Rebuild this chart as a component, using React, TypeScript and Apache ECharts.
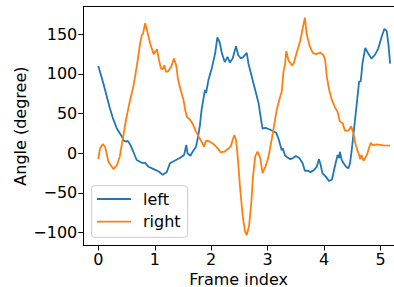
import React, { useEffect, useRef } from "react";
import * as echarts from "echarts";

const leftX = [0, 0.09, 0.2, 0.26, 0.33, 0.42, 0.45, 0.5, 0.52, 0.57, 0.62, 0.68, 0.77, 0.83, 0.89, 0.98, 1.07, 1.14, 1.21, 1.27, 1.36, 1.45, 1.52, 1.56, 1.58, 1.63, 1.68, 1.73, 1.76, 1.8, 1.83, 1.89, 1.91, 1.95, 2.01, 2.07, 2.11, 2.15, 2.19, 2.24, 2.29, 2.33, 2.38, 2.44, 2.48, 2.53, 2.57, 2.63, 2.66, 2.75, 2.84, 2.88, 2.91, 2.96, 3.04, 3.15, 3.19, 3.25, 3.27, 3.31, 3.4, 3.45, 3.5, 3.56, 3.62, 3.66, 3.72, 3.76, 3.82, 3.87, 3.91, 3.94, 3.97, 4.03, 4.09, 4.14, 4.19, 4.24, 4.27, 4.28, 4.31, 4.34, 4.39, 4.43, 4.46, 4.49, 4.53, 4.58, 4.62, 4.65, 4.68, 4.73, 4.78, 4.84, 4.9, 4.96, 5.02, 5.07, 5.11, 5.14, 5.17];
const leftY = [110, 88, 58, 44, 31, 21, 16, 14.6, 16, 10.4, 2, -8.4, -12, -12, -17, -20, -23, -27, -24, -12.6, -9, -5.5, -2, 10.4, 0, -3, 3, 8, 18, 35, 55, 80, 76, 92, 107, 126, 146, 140, 126, 115, 121.5, 114.5, 119.5, 135, 123.6, 119.5, 121.5, 126.5, 113, 88, 63, 44, 31, 32, 30, 26, 19, 4, 6, -3, -7.5, -6, -3.4, -6, -12.6, -22, -22, -24, -21, -17, -7.5, -14.7, -25, -29.4, -35, -33, -17, -2, -6, 2, -7.5, -12, -17, -19, -12.6, 4, 30, 63, 90, 91, 113, 133, 126, 119.5, 124, 132, 147, 157, 154, 138, 113];

const rightX = [0, 0.03, 0.08, 0.12, 0.18, 0.27, 0.33, 0.38, 0.42, 0.45, 0.49, 0.55, 0.62, 0.68, 0.74, 0.77, 0.79, 0.83, 0.87, 0.92, 0.98, 1.04, 1.07, 1.11, 1.14, 1.17, 1.2, 1.24, 1.29, 1.34, 1.38, 1.41, 1.45, 1.51, 1.54, 1.57, 1.63, 1.68, 1.72, 1.78, 1.83, 1.87, 1.91, 1.98, 2.04, 2.1, 2.17, 2.23, 2.29, 2.35, 2.38, 2.41, 2.44, 2.47, 2.51, 2.56, 2.6, 2.63, 2.67, 2.71, 2.74, 2.78, 2.82, 2.87, 2.91, 2.96, 3.01, 3.07, 3.1, 3.16, 3.22, 3.25, 3.28, 3.31, 3.33, 3.37, 3.43, 3.46, 3.52, 3.58, 3.62, 3.66, 3.69, 3.74, 3.8, 3.86, 3.93, 3.99, 4.02, 4.05, 4.09, 4.14, 4.19, 4.24, 4.28, 4.33, 4.37, 4.43, 4.48, 4.52, 4.56, 4.61, 4.64, 4.66, 4.7, 4.76, 4.8, 4.83, 4.86, 4.93, 5.05, 5.17];
const rightY = [-7.5, 6, 11.7, 8.3, -10.6, -20, -14.7, -4, 12.6, 25, 42, 63, 84, 109, 138, 149, 150, 164, 153, 138, 125, 131, 119.5, 107, 105.7, 111, 102.6, 103.5, 109, 119.5, 111, 94, 82, 67, 54.5, 46, 42, 36, 29, 21, 14.6, 8.3, 16, 14.6, 11.7, 7.5, 1.3, 2, 5, 9.2, 16.7, 23, 16.7, -4, -42, -80, -98.6, -103, -92, -63, -29.4, -4, 2, -6, -25, -17, -6, 16.7, 29, 54.5, 71, 77.5, 102.6, 113, 129, 117, 111, 113, 128, 142.5, 157, 171, 151, 136, 126.5, 125, 127, 124, 117, 96, 80, 67, 58.6, 52, 40, 38, 28.5, 28.5, 34, 25, 10.4, 0, -7.5, -2, -9.3, -2, 7.5, 13.4, 10.4, 11.3, 10, 9.6];

const xTicks = [0, 1, 2, 3, 4, 5];
const yTicks = [-100, -50, 0, 50, 100, 150];

const FONT = "DejaVu Sans";

export default function App() {
  const ref = useRef<HTMLDivElement>(null);
  useEffect(() => {
    if (!ref.current) return;
    const chart = echarts.init(ref.current, null, { renderer: "svg" });
    const fmt = (v: any) => String(v).replace("-", "\u2212");
    const xMin = -0.266;
    const xMax = 5.239;
    chart.setOption({
      animation: false,
      grid: { left: 83.3, top: 6.7, right: 0, bottom: 41.5, outerBoundsMode: "none", containLabel: false },
      xAxis: [
        {
          type: "value",
          min: xMin,
          max: xMax,
          position: "bottom",
          axisLine: { show: true, onZero: false, lineStyle: { color: "#000", width: 1 } },
          axisTick: { show: true, length: 5, customValues: xTicks, lineStyle: { color: "#000", width: 1 } },
          axisLabel: { customValues: xTicks, fontSize: 16, color: "#000", fontFamily: FONT, margin: 6, formatter: fmt },
          splitLine: { show: false },
          name: "Frame index",
          nameLocation: "middle",
          nameGap: 25.5,
          nameMoveOverlap: false,
          nameTextStyle: { fontSize: 16, lineHeight: 16, color: "#000", fontFamily: FONT },
        },
        {
          type: "value",
          min: xMin,
          max: xMax,
          position: "top",
          axisLine: { show: true, onZero: false, lineStyle: { color: "#000", width: 1 } },
          axisTick: { show: false },
          axisLabel: { show: false },
          splitLine: { show: false },
        },
      ],
      yAxis: {
        type: "value",
        min: -116.2,
        max: 184.8,
        axisLine: { show: true, onZero: false, lineStyle: { color: "#000", width: 1 } },
        axisTick: { show: true, length: 5, customValues: yTicks, lineStyle: { color: "#000", width: 1 } },
        axisLabel: { customValues: yTicks, fontSize: 16, color: "#000", fontFamily: FONT, margin: 6, formatter: fmt },
        splitLine: { show: false },
        name: "Angle (degree)",
        nameLocation: "middle",
        nameGap: 55,
        nameMoveOverlap: false,
        nameRotate: 90,
        nameTextStyle: { fontSize: 16, lineHeight: 16, color: "#000", fontFamily: FONT },
      },
      legend: {
        show: true,
        orient: "vertical",
        left: 91.7,
        top: 185.7,
        data: ["left", "right"],
        icon: "path://M0,0L34,0L34,1.8L0,1.8Z",
        symbolKeepAspect: true,
        itemWidth: 34,
        itemHeight: 17,
        itemGap: 5.7,
        padding: [4.8, 7, 7.1, 5.3],
        backgroundColor: "rgba(255,255,255,0.8)",
        borderColor: "#cccccc",
        borderWidth: 1,
        borderRadius: 3,
        textStyle: { fontSize: 16, fontFamily: FONT, color: "#000", lineHeight: 17, padding: [0, 0, 0, 7] },
      },
      series: [
        {
          name: "left",
          type: "line",
          xAxisIndex: 0,
          symbol: "none",
          color: "#1f77b4",
          lineStyle: { width: 1.8, color: "#1f77b4" },
          data: leftX.map((x, i) => [x, leftY[i]]),
        },
        {
          name: "right",
          type: "line",
          xAxisIndex: 0,
          symbol: "none",
          color: "#ff7f0e",
          lineStyle: { width: 1.8, color: "#ff7f0e" },
          data: rightX.map((x, i) => [x, rightY[i]]),
        },
      ],
    });
    return () => chart.dispose();
  }, []);
  return (
    <div
      ref={ref}
      style={{ position: "fixed", left: 0, top: 0, width: 394, height: 287, background: "#fff" }}
    />
  );
}
